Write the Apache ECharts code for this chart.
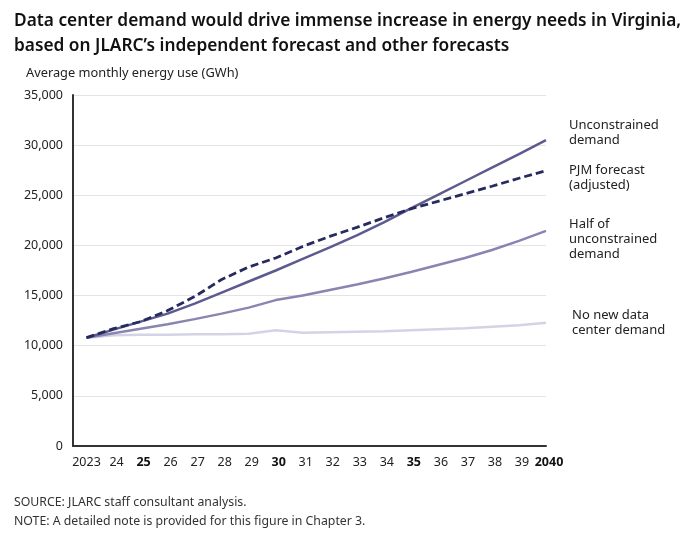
<!DOCTYPE html>
<html>
<head>
<meta charset="utf-8">
<script src="https://cdn.jsdelivr.net/npm/echarts@6/dist/echarts.min.js"></script>
<style>
html,body{margin:0;padding:0;background:#fff;}
#c{width:694px;height:533px;}
</style>
</head>
<body>
<div id="c"></div>
<script>
const years = [2023,2024,2025,2026,2027,2028,2029,2030,2031,2032,2033,2034,2035,2036,2037,2038,2039,2040];
const tickLabels = ['2023','24','25','26','27','28','29','30','31','32','33','34','35','36','37','38','39','2040'];
const boldTicks = ['25','30','35','2040'];
const unconstrained = [10800,11600,12400,13200,14200,15300,16400,17500,18650,19800,21000,22300,23700,25050,26400,27750,29100,30500];
const pjm = [10800,11700,12400,13500,14900,16600,17850,18750,19900,20900,21800,22750,23650,24400,25150,25900,26700,27450];
const half = [10800,11250,11700,12150,12650,13200,13800,14550,15000,15550,16100,16700,17350,18050,18750,19550,20450,21450];
const noNew = [10800,11050,11100,11100,11150,11150,11200,11550,11300,11350,11400,11450,11550,11650,11750,11900,12050,12300];
const yTicks = [0,5000,10000,15000,20000,25000,30000,35000];

const FONT = '"Noto Sans", "Open Sans", sans-serif';
const pair = arr => years.map((y,i)=>[y,arr[i]]);

const chart = echarts.init(document.getElementById('c'), null, {renderer:'canvas'});
chart.setOption({
  animation:false,
  backgroundColor:'#fff',
  textStyle:{fontFamily:FONT},
  grid:{left:73,right:148,top:95,bottom:87,containLabel:false},
  xAxis:{
    type:'value', min:2022.5, max:2040,
    axisLine:{show:true,lineStyle:{color:'#333',width:2}},
    axisTick:{show:false},
    splitLine:{show:false},
    axisLabel:{
      customValues:years,
      margin:10,
      color:'#222',
      fontSize:12.5,
      fontFamily:FONT,
      formatter:function(v){
        const i = years.indexOf(Math.round(v));
        const t = tickLabels[i];
        if (t === undefined) return '';
        if (i === 0) return t;
        if (boldTicks.indexOf(t) >= 0) return '{b|'+t+'}';
        return '{n|'+t+'}';
      },
      rich:{
        b:{fontWeight:'bold',fontSize:12.5,color:'#111',fontFamily:FONT,padding:[0,0,0,6]},
        n:{fontSize:12.5,color:'#222',fontFamily:FONT,padding:[0,0,0,6]}
      }
    }
  },
  yAxis:{
    type:'value', min:0, max:35000, interval:5000,
    axisLine:{show:true,lineStyle:{color:'#333',width:2}},
    axisTick:{show:false},
    splitLine:{show:true,lineStyle:{color:'#e4e4e4',width:1}},
    axisLabel:{
      margin:10,color:'#222',fontSize:12.5,fontFamily:FONT,
      formatter:v=>v.toLocaleString('en-US')
    }
  },
  series:[
    {name:'No new data center demand',type:'line',data:pair(noNew),symbol:'none',lineStyle:{color:'#d3d3e6',width:2.5},z:1},
    {name:'Half of unconstrained demand',type:'line',data:pair(half),symbol:'none',lineStyle:{color:'#8a84b1',width:2.5},z:2},
    {name:'Unconstrained demand',type:'line',data:pair(unconstrained),symbol:'none',lineStyle:{color:'#5c5a8e',width:2.5},z:3},
    {name:'PJM forecast (adjusted)',type:'line',data:pair(pjm),symbol:'none',lineStyle:{color:'#262b5e',width:2.8,type:[8,4]},z:4}
  ],
  graphic:[
    {type:'text',left:14,top:9,style:{text:'Data center demand would drive immense increase in energy needs in Virginia,\nbased on JLARC\u2019s independent forecast and other forecasts',font:'600 17.3px '+FONT,fill:'#111',lineHeight:25}},
    {type:'text',left:26,top:67,style:{text:'Average monthly energy use (GWh)',font:'12.8px '+FONT,fill:'#222'}},
    {type:'text',left:569,top:118,style:{text:'Unconstrained\ndemand',font:'13px '+FONT,fill:'#222',lineHeight:15}},
    {type:'text',left:569,top:163,style:{text:'PJM forecast\n(adjusted)',font:'13px '+FONT,fill:'#222',lineHeight:15}},
    {type:'text',left:569,top:217,style:{text:'Half of\nunconstrained\ndemand',font:'13px '+FONT,fill:'#222',lineHeight:15}},
    {type:'text',left:572,top:308,style:{text:'No new data\ncenter demand',font:'13px '+FONT,fill:'#222',lineHeight:15}},
    {type:'text',left:14,top:493,style:{text:'SOURCE: JLARC staff consultant analysis.\nNOTE: A detailed note is provided for this figure in Chapter 3.',font:'12.3px '+FONT,fill:'#333',lineHeight:19}}
  ]
});
</script>
</body>
</html>
